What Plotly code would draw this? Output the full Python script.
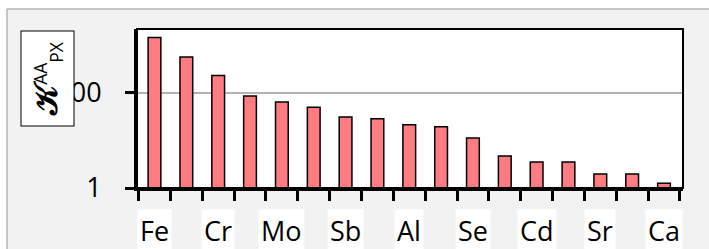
import plotly.graph_objects as go

# Data
categories = ["Fe", "Cu", "Cr", "Ni", "Mo", "Zn", "Sb", "Pb", "Al", "Mn",
              "Se", "As", "Cd", "Co", "Sr", "Ba", "Ca"]
values = [1420, 553, 228, 84, 63, 49, 30.7, 28.3, 21.2, 19.2,
          11.1, 4.7, 3.5, 3.5, 1.97, 1.97, 1.26]
shown_labels = categories[::2]
y_tick_vals = [1, 100]
y_tick_text = ["1", "100"]

W, H = 709, 249
L, R, T, B = 137, 683, 29, 188  # plot area pixels


def px(xp):
    return (xp - L) / (R - L)


def py(yp):
    return (B - yp) / (B - T)


FONT = "Open Sans"

fig = go.Figure()
fig.add_trace(go.Bar(
    x=categories, y=values,
    marker=dict(color="#ff7c80", line=dict(color="black", width=1.5)),
))

annotations = []
for lab in shown_labels:
    annotations.append(dict(
        x=lab, xref="x", y=py(230), yref="paper", yanchor="middle",
        text=lab, showarrow=False, bgcolor="white", borderpad=2,
        font=dict(family=FONT, size=27, color="black"),
    ))

# y axis title box
annotations.append(dict(
    x=px(47), y=py(78.5), xref="paper", yref="paper",
    xanchor="center", yanchor="middle",
    text=('<span style="font-family:DejaVu Serif;font-size:32px"><b>𝒦</b></span>'
          '<sup>AA</sup><sub>PX</sub>'),
    textangle=-90,
    showarrow=False, bgcolor="white", bordercolor="black", borderwidth=1,
    width=94, height=52, borderpad=0,
    font=dict(family=FONT, size=25, color="black"),
))

shapes = [
    # white strips outside outer frame
    dict(type="rect", xref="paper", yref="paper", x0=px(-5), x1=px(715),
         y0=py(9), y1=py(-5), fillcolor="white", line=dict(width=0), layer="below"),
    dict(type="rect", xref="paper", yref="paper", x0=px(-5), x1=px(7),
         y0=py(260), y1=py(-5), fillcolor="white", line=dict(width=0), layer="below"),
    dict(type="line", xref="paper", yref="paper", x0=px(7), x1=px(715),
         y0=py(9), y1=py(9), line=dict(color="#b5b5b5", width=1.5)),
    dict(type="line", xref="paper", yref="paper", x0=px(7), x1=px(7),
         y0=py(9), y1=py(260), line=dict(color="#b5b5b5", width=1.5)),
    # plot border top/right
    dict(type="rect", xref="paper", yref="paper", x0=0, x1=1, y0=0, y1=1,
         line=dict(color="black", width=2), fillcolor="rgba(0,0,0,0)"),
]

fig.update_layout(
    width=W, height=H,
    margin=dict(l=L, r=W - R, t=T, b=H - B, pad=0),
    paper_bgcolor="#f2f2f2", plot_bgcolor="white",
    showlegend=False, bargap=0.6,
    annotations=annotations, shapes=shapes,
    xaxis=dict(
        type="category", showgrid=False, showline=True, linecolor="black", linewidth=3,
        ticks="outside", tickson="boundaries", ticklen=10, tickwidth=3, tickcolor="black",
        showticklabels=False, zeroline=False, fixedrange=True,
    ),
    yaxis=dict(
        type="log", range=[0, 3.33], tickvals=y_tick_vals, ticktext=y_tick_text,
        showgrid=True, gridcolor="#b3b3b3", gridwidth=1.5,
        showline=True, linecolor="black", linewidth=3,
        ticks="outside", ticklen=9, tickwidth=3, tickcolor="black",
        ticklabelstandoff=18,
        tickfont=dict(family=FONT, size=27, color="black"),
        zeroline=False, fixedrange=True,
    ),
)

fig.write_html(
    "out.html",
    config={"displayModeBar": False},
    post_script="document.body.style.margin='0';document.body.style.overflow='hidden';",
)
